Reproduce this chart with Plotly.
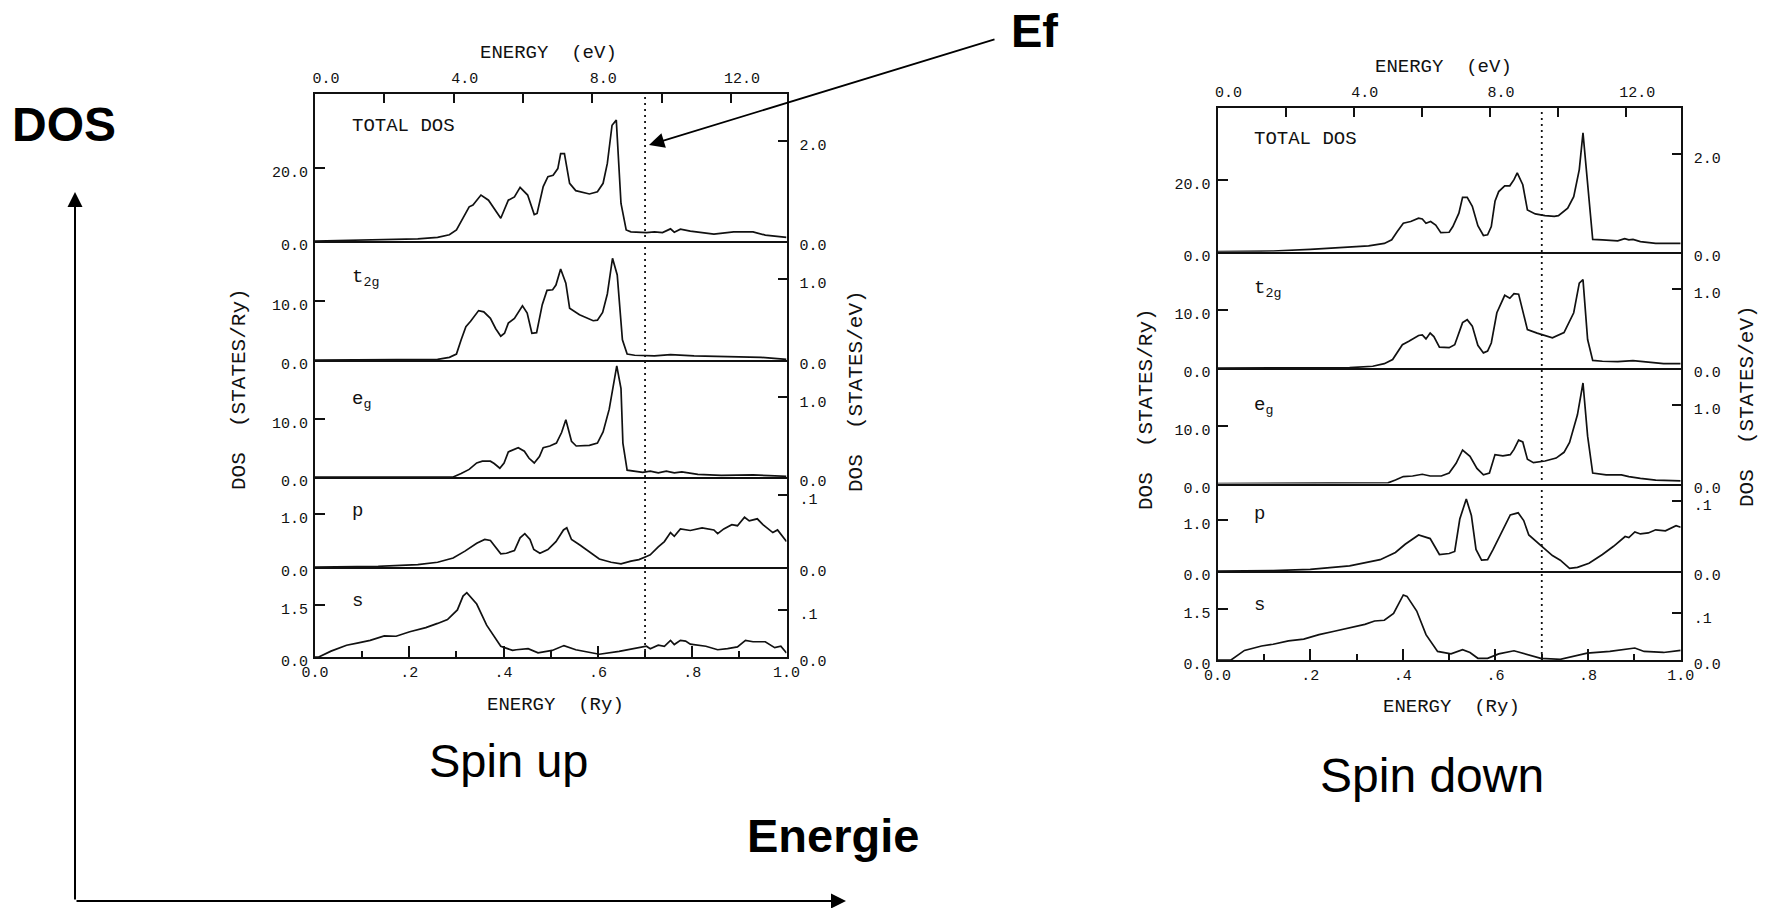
import plotly.graph_objects as go

# ---------------- data : energy (Ry) and DOS (states/Ry) ----------------
# Spin up
up_total_E = [0, 0.134, 0.218, 0.26, 0.285, 0.30, 0.317, 0.327, 0.335, 0.352, 0.368, 0.394, 0.41, 0.423, 0.435,
              0.451, 0.465, 0.471, 0.484, 0.494, 0.505, 0.515, 0.521, 0.529, 0.54, 0.553, 0.582, 0.599, 0.611, 0.62,
              0.63, 0.639, 0.649, 0.66, 0.67, 0.703, 0.72, 0.737, 0.754, 0.762, 0.775, 0.796, 0.846, 0.888, 0.929,
              0.955, 1.0]
up_total_D = [0, 0.3, 0.6, 1.0, 1.7, 3.0, 7.1, 9.3, 9.8, 12.5, 11.1, 6.2, 11.1, 12.0, 14.6,
              12.5, 7.2, 7.5, 14.8, 17.5, 17.9, 19.7, 23.8, 23.8, 15.7, 13.7, 12.8, 13.4, 15.7, 21.1,
              31.5, 32.9, 10.2, 3.0, 2.5, 2.3, 2.5, 2.3, 3.3, 2.4, 3.2, 2.7, 1.9, 2.5, 2.5,
              1.6, 1.0]

up_t2g_E = [0, 0.26, 0.285, 0.30, 0.31, 0.32, 0.33, 0.347, 0.358, 0.372, 0.383, 0.394, 0.402, 0.41, 0.423,
            0.44, 0.45, 0.46, 0.47, 0.482, 0.492, 0.504, 0.511, 0.521, 0.532, 0.54, 0.561, 0.59, 0.599, 0.61,
            0.62, 0.631, 0.641, 0.652, 0.662, 0.678, 0.72, 0.754, 0.804, 0.888, 0.946, 1.0]
up_t2g_D = [0, 0.1, 0.45, 1.0, 3.4, 5.6, 6.5, 8.3, 8.1, 7.0, 5.3, 4.0, 4.5, 6.2, 7.0,
            9.1, 7.9, 4.5, 4.6, 9.3, 11.7, 11.8, 12.6, 15.3, 12.9, 8.7, 7.6, 6.6, 6.7, 8.0,
            11.1, 17.1, 14.3, 3.4, 1.0, 0.8, 0.7, 0.9, 0.7, 0.56, 0.45, 0.1]

up_eg_E = [0, 0.293, 0.31, 0.327, 0.343, 0.355, 0.372, 0.38, 0.392, 0.401, 0.41, 0.431, 0.444, 0.454, 0.465,
           0.476, 0.484, 0.498, 0.512, 0.523, 0.532, 0.544, 0.554, 0.582, 0.599, 0.611, 0.624, 0.632, 0.64, 0.649,
           0.653, 0.662, 0.695, 0.711, 0.728, 0.745, 0.762, 0.778, 0.812, 0.862, 0.929, 0.963, 1.0]
up_eg_D = [0, 0, 0.6, 1.3, 2.4, 2.7, 2.7, 2.3, 1.5, 2.4, 4.3, 5.0, 4.4, 3.2, 2.4,
           3.5, 5.0, 5.3, 5.8, 7.6, 9.8, 6.1, 5.3, 5.4, 5.8, 7.7, 11.6, 15.1, 19.0, 15.1,
           5.8, 1.16, 0.8, 1.0, 0.7, 1.0, 0.7, 0.87, 0.46, 0.29, 0.35, 0.23, 0.12]

up_p_E = [0, 0.134, 0.218, 0.26, 0.293, 0.318, 0.343, 0.36, 0.372, 0.394, 0.406, 0.423, 0.435, 0.445, 0.456,
          0.464, 0.477, 0.494, 0.511, 0.527, 0.534, 0.544, 0.561, 0.582, 0.603, 0.628, 0.649, 0.67, 0.687, 0.703,
          0.711, 0.728, 0.741, 0.754, 0.762, 0.775, 0.796, 0.821, 0.846, 0.854, 0.867, 0.884, 0.896, 0.911, 0.921,
          0.938, 0.95, 0.971, 0.981, 1.0]
up_p_D = [0, 0.013, 0.044, 0.09, 0.17, 0.30, 0.45, 0.52, 0.50, 0.25, 0.26, 0.31, 0.55, 0.63, 0.52,
          0.33, 0.26, 0.33, 0.48, 0.70, 0.74, 0.52, 0.42, 0.28, 0.15, 0.09, 0.06, 0.11, 0.14, 0.20,
          0.23, 0.38, 0.48, 0.65, 0.58, 0.72, 0.69, 0.74, 0.70, 0.63, 0.72, 0.80, 0.78, 0.94, 0.87,
          0.91, 0.80, 0.65, 0.70, 0.48]

up_s_E = [0, 0.008, 0.034, 0.067, 0.092, 0.117, 0.147, 0.172, 0.201, 0.235, 0.26, 0.281, 0.302, 0.314, 0.322,
          0.343, 0.364, 0.394, 0.419, 0.427, 0.452, 0.473, 0.503, 0.528, 0.553, 0.603, 0.645, 0.678, 0.703, 0.711,
          0.728, 0.741, 0.754, 0.762, 0.775, 0.786, 0.796, 0.829, 0.854, 0.875, 0.896, 0.913, 0.929, 0.955, 0.975,
          0.988, 1.0]
up_s_D = [0, 0, 0.17, 0.34, 0.41, 0.48, 0.61, 0.60, 0.73, 0.85, 0.97, 1.08, 1.36, 1.76, 1.86,
          1.53, 0.92, 0.31, 0.19, 0.21, 0.24, 0.12, 0.19, 0.33, 0.21, 0.08, 0.16, 0.24, 0.31, 0.24,
          0.34, 0.31, 0.48, 0.36, 0.48, 0.46, 0.37, 0.31, 0.21, 0.24, 0.29, 0.48, 0.44, 0.44, 0.27,
          0.31, 0.12]

# Spin down
dn_total_E = [0, 0.12, 0.2, 0.285, 0.326, 0.36, 0.376, 0.388, 0.401, 0.417, 0.434, 0.442, 0.45, 0.46, 0.471,
              0.482, 0.5, 0.508, 0.521, 0.529, 0.539, 0.55, 0.562, 0.574, 0.583, 0.591, 0.599, 0.607, 0.62, 0.631,
              0.64, 0.647, 0.659, 0.669, 0.686, 0.707, 0.727, 0.736, 0.748, 0.756, 0.769, 0.781, 0.789, 0.799, 0.81,
              0.831, 0.864, 0.879, 0.888, 0.897, 0.913, 0.946, 1.0]
dn_total_D = [0, 0.2, 0.65, 1.2, 1.6, 2.3, 3.3, 5.6, 7.9, 8.4, 9.3, 9.1, 7.9, 8.4, 7.4,
              5.3, 5.4, 7.0, 10.7, 15.1, 15.1, 12.6, 7.2, 4.5, 4.7, 7.0, 14.0, 16.7, 18.3, 18.3,
              20.0, 21.9, 18.6, 11.6, 10.5, 10.0, 9.8, 10.0, 11.3, 12.1, 15.3, 22.8, 33.0, 19.1, 3.4,
              3.3, 3.0, 3.6, 3.3, 3.4, 2.8, 2.3, 2.3]

dn_t2g_E = [0, 0.285, 0.335, 0.36, 0.378, 0.388, 0.399, 0.413, 0.434, 0.442, 0.45, 0.459, 0.467, 0.479, 0.5,
            0.512, 0.529, 0.539, 0.55, 0.562, 0.574, 0.583, 0.591, 0.603, 0.62, 0.631, 0.64, 0.65, 0.669, 0.69,
            0.723, 0.748, 0.769, 0.781, 0.789, 0.799, 0.81, 0.831, 0.864, 0.897, 0.93, 0.963, 1.0]
dn_t2g_D = [0, 0.06, 0.3, 0.75, 1.45, 2.6, 4.0, 4.6, 5.6, 5.7, 5.0, 6.0, 5.4, 3.6, 3.5,
            4.0, 7.8, 8.3, 7.2, 3.9, 2.6, 2.9, 4.3, 9.5, 12.5, 12.0, 12.8, 12.7, 6.6, 6.0,
            5.2, 6.1, 9.5, 14.6, 15.2, 4.9, 1.3, 1.16, 1.1, 1.27, 1.0, 0.75, 0.75]

dn_eg_E = [0, 0.368, 0.384, 0.401, 0.421, 0.442, 0.459, 0.483, 0.5, 0.515, 0.529, 0.545, 0.56, 0.574, 0.587,
           0.599, 0.616, 0.632, 0.64, 0.65, 0.659, 0.669, 0.682, 0.707, 0.731, 0.748, 0.76, 0.777, 0.789, 0.799,
           0.81, 0.839, 0.872, 0.888, 0.913, 0.946, 1.0]
dn_eg_D = [0, 0.12, 0.6, 1.2, 1.3, 1.6, 1.3, 1.3, 1.8, 3.5, 5.8, 4.7, 2.6, 1.5, 1.8,
           5.0, 4.8, 5.0, 5.9, 7.5, 7.2, 4.2, 3.6, 3.9, 4.4, 5.4, 7.1, 11.9, 17.4, 8.2,
           1.8, 1.5, 1.5, 1.2, 0.9, 0.6, 0.47]

dn_p_E = [0, 0.12, 0.2, 0.285, 0.351, 0.384, 0.405, 0.434, 0.459, 0.479, 0.5, 0.512, 0.523, 0.537, 0.548,
          0.558, 0.57, 0.583, 0.595, 0.616, 0.632, 0.649, 0.661, 0.672, 0.69, 0.702, 0.723, 0.74, 0.76, 0.777,
          0.802, 0.831, 0.855, 0.88, 0.888, 0.901, 0.913, 0.93, 0.946, 0.967, 0.99, 1.0]
dn_p_D = [0, 0.007, 0.033, 0.1, 0.22, 0.36, 0.52, 0.70, 0.63, 0.32, 0.34, 0.38, 1.01, 1.40, 1.08,
          0.42, 0.21, 0.22, 0.42, 0.81, 1.09, 1.13, 0.98, 0.70, 0.56, 0.45, 0.30, 0.21, 0.05, 0.07,
          0.15, 0.32, 0.48, 0.67, 0.65, 0.76, 0.72, 0.74, 0.80, 0.78, 0.88, 0.85]

dn_s_E = [0, 0.029, 0.058, 0.095, 0.12, 0.153, 0.186, 0.219, 0.252, 0.285, 0.318, 0.339, 0.36, 0.38, 0.401,
          0.409, 0.43, 0.45, 0.475, 0.504, 0.529, 0.545, 0.562, 0.583, 0.607, 0.64, 0.669, 0.698, 0.74, 0.764,
          0.798, 0.847, 0.88, 0.901, 0.921, 0.963, 1.0]
dn_s_D = [0, 0, 0.28, 0.41, 0.46, 0.56, 0.61, 0.74, 0.84, 0.94, 1.04, 1.14, 1.16, 1.36, 1.90,
          1.86, 1.43, 0.74, 0.25, 0.18, 0.30, 0.22, 0.05, 0.05, 0.18, 0.27, 0.15, 0.05, 0.02, 0.1,
          0.2, 0.25, 0.32, 0.35, 0.25, 0.22, 0.28]

RY_TO_EV = 13.6
E_FERMI = 0.7

panel_names = ["TOTAL DOS", "t<sub>2g</sub>", "e<sub>g</sub>", "p", "s"]
y_max = [40.0, 20.0, 20.0, 1.7, 2.6]
left_tickvals = [20.0, 10.0, 10.0, 1.0, 1.5]
left_ticktext = ["20.0", "10.0", "10.0", "1.0", "1.5"]
right_tickvals = [2.0, 1.0, 1.0, 0.1, 0.1]
right_ticktext = ["2.0", "1.0", "1.0", ".1", ".1"]
ry_tickvals = [0.0, 0.2, 0.4, 0.6, 0.8, 1.0]
ry_ticktext = ["0.0", ".2", ".4", ".6", ".8", "1.0"]
ry_minor_ticks = [0.1, 0.3, 0.5, 0.7, 0.9]
ev_tickvals = [0, 4, 8, 12]
ev_ticktext = ["0.0", "4.0", "8.0", "12.0"]
ev_minor_ticks = [2, 6, 10]

spin_up = [(up_total_E, up_total_D), (up_t2g_E, up_t2g_D), (up_eg_E, up_eg_D), (up_p_E, up_p_D), (up_s_E, up_s_D)]
spin_down = [(dn_total_E, dn_total_D), (dn_t2g_E, dn_t2g_D), (dn_eg_E, dn_eg_D), (dn_p_E, dn_p_D), (dn_s_E, dn_s_D)]

# ---------------- layout geometry (pixels in the 1767x908 page) ----------------
W, H = 1767, 908


def fx(p):
    return p / W


def fy(p):
    return 1 - p / H


INK = "#111111"
MONO = "Liberation Mono, DejaVu Sans Mono, monospace"
SANS = "Liberation Sans, Arial, Helvetica, sans-serif"

FIGS = [
    dict(curves=spin_up, x=(315, 786.5), y=[94, 241, 360, 477, 567, 657],
         label_x=350, label_y=[126, 278, 400, 511, 601],
         ev_title=(548, 53), ry_title=(555, 705),
         ytitle_left=(240, 389), ytitle_right=(856, 391)),
    dict(curves=spin_down, x=(1217.6, 1680.7), y=[107.7, 251.7, 368, 483.5, 571, 660],
         label_x=1252, label_y=[139, 289, 406, 514, 605],
         ev_title=(1443, 67.5), ry_title=(1451, 707),
         ytitle_left=(1146, 409), ytitle_right=(1747, 406)),
]

fig = go.Figure()
layout = {}
annotations = []
shapes = []

tick_font = dict(family=MONO, size=15, color=INK)
common = dict(showgrid=False, zeroline=False, fixedrange=True, linecolor=INK, tickcolor=INK,
              tickfont=tick_font, automargin=False)


def ref(kind, n):
    return kind if n == 1 else f"{kind}{n}"


def label(text, x, y, size, family=MONO, angle=0, xanchor="center"):
    return dict(text=text, x=fx(x), y=fy(y), xref="paper", yref="paper", xanchor=xanchor, yanchor="middle",
                textangle=angle, showarrow=False, font=dict(family=family, size=size, color=INK))


for f, spec in enumerate(FIGS):
    x0, x1 = spec["x"]
    ys = spec["y"]
    for i in range(5):
        n = f * 5 + i + 1
        xn, yn, yr = ref("x", n), ref("y", n), f"y{n + 10}"
        E, D = spec["curves"][i]
        fig.add_trace(go.Scatter(x=E, y=D, xaxis=xn, yaxis=yn, mode="lines",
                                 line=dict(color=INK, width=1.7), hoverinfo="skip", showlegend=False))
        # same curve in states/eV drives the right-hand axis
        fig.add_trace(go.Scatter(x=E, y=[d / RY_TO_EV for d in D], xaxis=xn, yaxis=yr, mode="lines",
                                 line=dict(color="rgba(0,0,0,0)", width=0), hoverinfo="skip", showlegend=False))

        xaxis = dict(common, domain=[fx(x0), fx(x1)], range=[0, 1], anchor=yn,
                     showline=True, linewidth=2)
        if i < 4:
            xaxis.update(ticks="", showticklabels=False)
        else:
            xaxis.update(ticks="inside", ticklen=11, tickwidth=1.5, tickvals=ry_tickvals,
                         ticktext=ry_ticktext, ticklabelstandoff=0,
                         minor=dict(tickvals=ry_minor_ticks, ticks="inside", ticklen=6, tickwidth=1.5,
                                    tickcolor=INK, showgrid=False))
        layout[ref("xaxis", n)] = xaxis

        layout[ref("yaxis", n)] = dict(common, domain=[fy(ys[i + 1]), fy(ys[i])], range=[0, y_max[i]],
                                       anchor=xn, showline=True, mirror=True, linewidth=2,
                                       ticks="inside", ticklen=10, tickwidth=1.5,
                                       tickvals=[0, left_tickvals[i]], ticktext=["0.0", left_ticktext[i]],
                                       ticklabelstandoff=2, ticklabelshift=4)
        layout[f"yaxis{n + 10}"] = dict(common, overlaying=yn, side="right", anchor=xn,
                                        range=[0, y_max[i] / RY_TO_EV], showline=False,
                                        ticks="inside", ticklen=9, tickwidth=1.5,
                                        tickvals=[0, right_tickvals[i]], ticktext=["0.0", right_ticktext[i]],
                                        ticklabelstandoff=12, ticklabelshift=4)

        annotations.append(label(panel_names[i], spec["label_x"], spec["label_y"][i], 19, xanchor="left"))

    # top energy axis in eV on the TOTAL DOS panel
    top_n = f * 5 + 1
    ev_axis = f"x{11 + f}"
    Et, Dt = spec["curves"][0]
    fig.add_trace(go.Scatter(x=[e * RY_TO_EV for e in Et], y=Dt, xaxis=ev_axis, yaxis=ref("y", top_n),
                             mode="lines", line=dict(color="rgba(0,0,0,0)", width=0),
                             hoverinfo="skip", showlegend=False))
    layout[f"xaxis{11 + f}"] = dict(common, overlaying=ref("x", top_n), anchor=ref("y", top_n), side="top",
                                    range=[0, RY_TO_EV], showline=True, linewidth=2,
                                    ticks="inside", ticklen=9, tickwidth=1.5,
                                    tickvals=ev_tickvals, ticktext=ev_ticktext,
                                    ticklabelstandoff=3, ticklabelshift=11,
                                    minor=dict(tickvals=ev_minor_ticks, ticks="inside", ticklen=9,
                                               tickwidth=1.5, tickcolor=INK, showgrid=False))

    # Fermi level
    shapes.append(dict(type="line", xref=ref("x", f * 5 + 5), yref="paper", x0=E_FERMI, x1=E_FERMI,
                       y0=fy(ys[5]), y1=fy(ys[0]), layer="above",
                       line=dict(color=INK, width=1.8, dash="2px,4px")))

    annotations.append(label("ENERGY\u00a0\u00a0(eV)", *spec["ev_title"], 19))
    annotations.append(label("ENERGY\u00a0\u00a0(Ry)", *spec["ry_title"], 19))
    annotations.append(label("DOS\u00a0\u00a0(STATES/Ry)", *spec["ytitle_left"], 21, angle=-90))
    annotations.append(label("DOS\u00a0\u00a0(STATES/eV)", *spec["ytitle_right"], 21, angle=-90))

# big labels
big = [("<b>DOS</b>", 64, 124.5, 48), ("<b>Ef</b>", 1034, 30, 47), ("Spin up", 508, 760, 47),
       ("Spin down", 1432, 775, 48), ("<b>Energie</b>", 833, 835.5, 47)]
for text, x, y, size in big:
    annotations.append(dict(text=text, x=fx(x), y=fy(y), xref="paper", yref="paper", showarrow=False,
                            xanchor="center", yanchor="middle", font=dict(family=SANS, size=size, color="black")))

# arrows: (tip), (tail) in page pixels
arrows = [((649, 145), (996, 39), 1.8, 1.7), ((75, 192), (75, 901), 2, 1.5), ((846, 901), (75, 901), 2, 1.5)]
for (tx, ty), (sx, sy), aw, asz in arrows:
    annotations.append(dict(text="", x=fx(tx), y=fy(ty), ax=sx - tx, ay=sy - ty, xref="paper", yref="paper",
                            axref="pixel", ayref="pixel", showarrow=True, arrowhead=2, arrowsize=asz,
                            arrowwidth=aw, arrowcolor="black", standoff=0, startstandoff=0))

fig.update_layout(width=W, height=H, autosize=False,
                  margin=dict(l=0, r=0, t=0, b=0, pad=0, autoexpand=False),
                  paper_bgcolor="white", plot_bgcolor="white", showlegend=False,
                  annotations=annotations, shapes=shapes, **layout)

fig.write_html("out.html")
